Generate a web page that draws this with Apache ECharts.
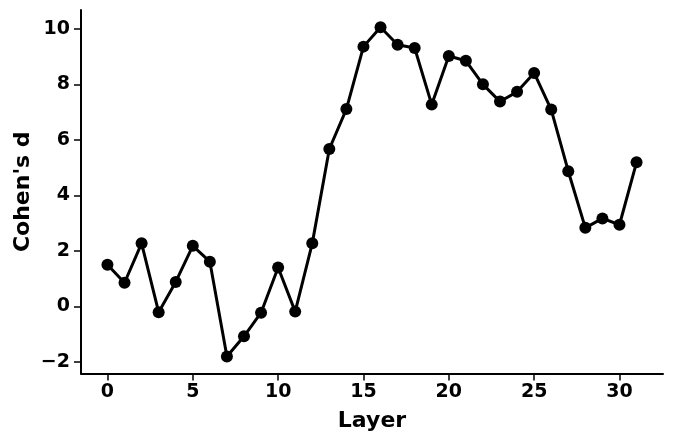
<!DOCTYPE html>
<html>
<head>
<meta charset="utf-8">
<script src="https://cdn.jsdelivr.net/npm/echarts@6/dist/echarts.min.js"></script>
<style>html,body{margin:0;padding:0;background:#fff}#c{width:675px;height:444px}</style>
</head>
<body>
<div id="c"></div>
<script>
const layers = [0,1,2,3,4,5,6,7,8,9,10,11,12,13,14,15,16,17,18,19,20,21,22,23,24,25,26,27,28,29,30,31];
const cohensD = [1.50,0.85,2.27,-0.21,0.88,2.18,1.61,-1.81,-1.08,-0.23,1.40,-0.19,2.27,5.67,7.11,9.36,10.06,9.43,9.31,7.27,9.02,8.85,8.00,7.38,7.73,8.41,7.09,4.87,2.83,3.17,2.94,5.19];
const xTicks = [0,5,10,15,20,25,30];
const yTicks = [-2,0,2,4,6,8,10];

const FONT = 'DejaVu Sans';
const fmt = v => String(v).replace('-', '\u2212');
const chart = echarts.init(document.getElementById('c'), null, {renderer: 'canvas'});
chart.setOption({
  animation: false,
  backgroundColor: '#fff',
  grid: {left: 81, right: 12, top: 10, bottom: 70.5, containLabel: false},
  xAxis: {
    type: 'value', min: -1.55, max: 32.55,
    name: 'Layer', nameLocation: 'middle', nameGap: 37, nameMoveOverlap: false,
    nameTextStyle: {fontFamily: FONT, fontWeight: 'bold', fontSize: 22, color: '#000'},
    axisLine: {show: true, onZero: false, lineStyle: {color: '#000', width: 2}},
    axisTick: {show: true, length: 7, lineStyle: {color: '#000', width: 1.5}, customValues: xTicks},
    axisLabel: {fontFamily: FONT, fontWeight: 'bold', fontSize: 19, color: '#000', margin: 9, customValues: xTicks, formatter: fmt},
    splitLine: {show: false}
  },
  yAxis: {
    type: 'value', min: -2.42, max: 10.68,
    name: "Cohen's d", nameLocation: 'middle', nameGap: 47, nameMoveOverlap: false,
    nameTextStyle: {fontFamily: FONT, fontWeight: 'bold', fontSize: 22, color: '#000'},
    axisLine: {show: true, onZero: false, lineStyle: {color: '#000', width: 2}},
    axisTick: {show: true, length: 7, lineStyle: {color: '#000', width: 1.5}, customValues: yTicks},
    axisLabel: {fontFamily: FONT, fontWeight: 'bold', fontSize: 19, color: '#000', margin: 11, customValues: yTicks, formatter: fmt},
    splitLine: {show: false}
  },
  series: [{
    type: 'line',
    data: layers.map((l, i) => [l, cohensD[i]]),
    symbol: 'circle', symbolSize: 12,
    lineStyle: {color: '#000', width: 3},
    itemStyle: {color: '#000'}
  }]
});
</script>
</body>
</html>
